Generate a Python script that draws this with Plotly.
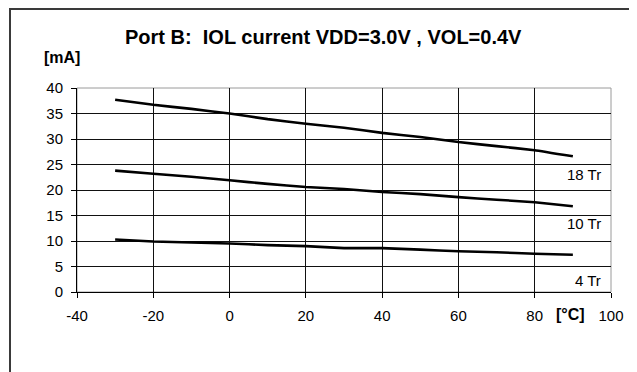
import plotly.graph_objects as go

temps = [-30, -20, -10, 0, 10, 20, 30, 40, 50, 60, 70, 80, 90]
tr18 = [37.7, 36.7, 35.9, 35.0, 33.9, 33.0, 32.2, 31.2, 30.4, 29.4, 28.6, 27.8, 26.6]
tr10 = [23.8, 23.2, 22.6, 21.9, 21.2, 20.6, 20.2, 19.6, 19.2, 18.6, 18.1, 17.6, 16.8]
tr4 = [10.3, 9.9, 9.7, 9.5, 9.2, 9.0, 8.6, 8.6, 8.3, 8.0, 7.8, 7.5, 7.3]
series_names = ["18 Tr", "10 Tr", "4 Tr"]
label_pos = [(98, 23.0), (98, 13.4), (98, 2.2)]
x_ticks = [-40, -20, 0, 20, 40, 60, 80, 100]
x_tick_text = ["-40", "-20", "0", "20", "40", "60", "80", "100"]
y_ticks = [0, 5, 10, 15, 20, 25, 30, 35, 40]

# page offset from default body margin
OFF = 8
W, H = 637, 372
# plot area in page pixels: x 77..611, y 88..292
PX0, PX1, PY0, PY1 = 77, 611, 88, 292
L = PX0 - OFF
R = W - (PX1 - OFF)
T = PY0 - OFF
B = H - (PY1 - OFF)
FONT = "Liberation Sans, Arial, sans-serif"

fig = go.Figure()
for name, ys in zip(series_names, [tr18, tr10, tr4]):
    fig.add_trace(go.Scatter(x=temps, y=ys, mode="lines", name=name,
                             line=dict(color="black", width=2.6, shape="spline", smoothing=0.3),
                             showlegend=False, hoverinfo="skip"))

annotations = []
for name, (lx, ly) in zip(series_names, label_pos):
    annotations.append(dict(x=lx, y=ly, xref="x", yref="y", text=name, showarrow=False,
                            xanchor="right", yanchor="middle",
                            font=dict(family=FONT, size=15, color="black")))

def py(pix):
    return (PY1 - pix) / (PY1 - PY0)
def px(pix):
    return (pix - PX0) / (PX1 - PX0)

annotations.append(dict(x=px(323), y=py(37), xref="paper", yref="paper",
                        text="<b>Port B:  IOL current VDD=3.0V , VOL=0.4V</b>", showarrow=False,
                        xanchor="center", yanchor="middle",
                        font=dict(family=FONT, size=20, color="black")))
annotations.append(dict(x=px(62), y=py(57), xref="paper", yref="paper",
                        text="<b>[mA]</b>", showarrow=False, xanchor="center", yanchor="middle",
                        font=dict(family=FONT, size=16, color="black")))
annotations.append(dict(x=px(570), y=py(314), xref="paper", yref="paper",
                        text="<b>[°C]</b>", showarrow=False, xanchor="center", yanchor="middle",
                        font=dict(family=FONT, size=16, color="black")))

shapes = [
    dict(type="rect", xref="paper", yref="paper", x0=px(10), x1=px(720), y0=py(480), y1=py(9),
         line=dict(color="#3a3a3a", width=2), fillcolor="rgba(0,0,0,0)", layer="above"),
    dict(type="rect", xref="paper", yref="paper", x0=0, x1=1, y0=0, y1=1,
         line=dict(color="#9a9a9a", width=1), layer="below"),
]

fig.update_layout(
    width=W, height=H,
    margin=dict(l=L, r=R, t=T, b=B),
    paper_bgcolor="white", plot_bgcolor="white",
    font=dict(family=FONT, size=15, color="black"),
    annotations=annotations, shapes=shapes,
    xaxis=dict(range=[-40, 100], tickvals=x_ticks, ticktext=x_tick_text,
               showgrid=True, gridcolor="#111111", gridwidth=1,
               showline=True, linecolor="black", linewidth=1,
               ticks="outside", ticklen=5, tickcolor="black", ticklabelstandoff=5,
               zeroline=False, tickfont=dict(size=15), fixedrange=True),
    yaxis=dict(range=[0, 40], tickvals=y_ticks,
               showgrid=True, gridcolor="#111111", gridwidth=1,
               showline=True, linecolor="black", linewidth=1,
               ticks="outside", ticklen=5, tickcolor="black", ticklabelstandoff=5,
               zeroline=False, tickfont=dict(size=15), fixedrange=True),
)

fig.write_html("out.html")
